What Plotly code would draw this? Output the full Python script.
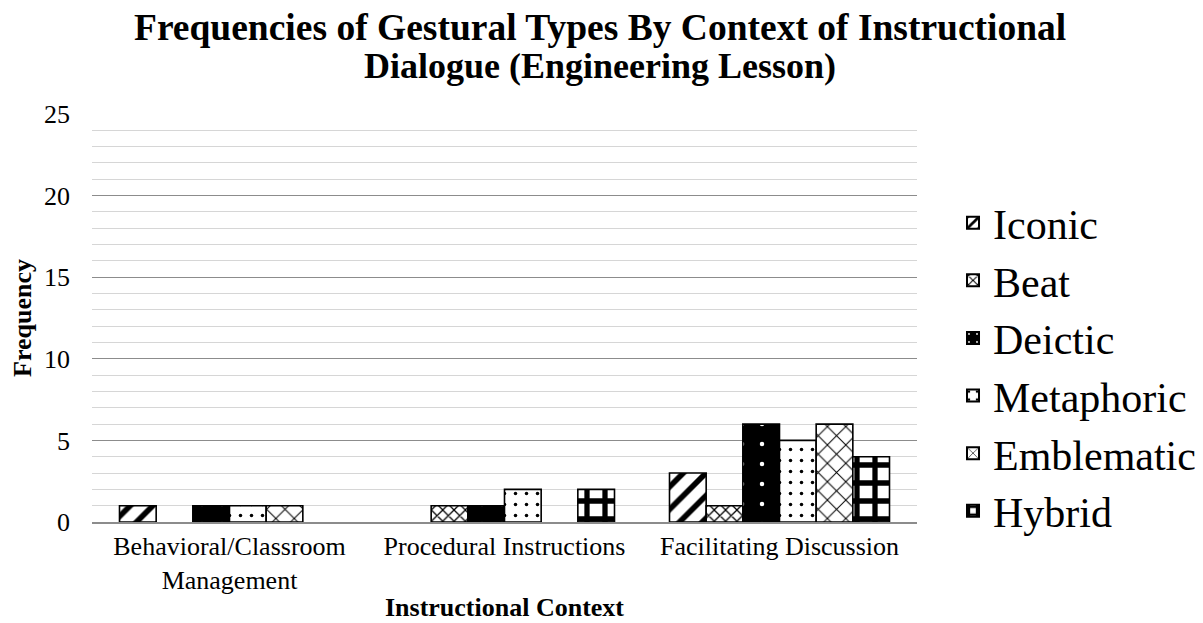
import plotly.graph_objects as go

categories = ["Behavioral/Classroom<br>Management", "Procedural Instructions", "Facilitating Discussion"]
series_names = ["Iconic", "Beat", "Deictic", "Metaphoric", "Emblematic", "Hybrid"]
iconic = [1, 0, 3]
beat = [0, 1, 1]
deictic = [1, 1, 6]
metaphoric = [1, 2, 5]
emblematic = [1, 0, 6]
hybrid = [0, 2, 4]
values = [iconic, beat, deictic, metaphoric, emblematic, hybrid]
title_lines = ["Frequencies of Gestural Types By Context of Instructional",
               "Dialogue (Engineering Lesson)"]

styles = [
    dict(bg="white", fg="black", shape="/", size=16, sol=0.35),
    dict(bg="white", fg="black", shape="x", size=8, sol=0.3),
    dict(bg="black", fg="white", shape=".", size=20, sol=0.04),
    dict(bg="white", fg="black", shape=".", size=11, sol=0.08),
    dict(bg="white", fg="black", shape="x", size=13, sol=0.15),
    dict(bg="white", fg="black", shape="+", size=18, sol=0.5),
]

FONT = "Liberation Serif, Times New Roman, serif"

fig = go.Figure()
for name, vals, st in zip(series_names, values, styles):
    fig.add_trace(go.Bar(
        name=name, x=categories, y=[v if v else None for v in vals],
        marker=dict(color=st["bg"], line=dict(color="black", width=1.6),
                    pattern=dict(shape=st["shape"], fgcolor=st["fg"], bgcolor=st["bg"],
                                 size=st["size"], solidity=st["sol"], fillmode="replace")),
    ))

for txt, yy, fs in zip(title_lines, [1.2108, 1.1176], [37.5, 36]):
    fig.add_annotation(text="<b>" + txt + "</b>", xref="paper", yref="paper",
                       x=0.616, y=yy, xanchor="center", yanchor="middle",
                       showarrow=False, font=dict(size=fs, family=FONT, color="black"))

fig.update_layout(
    width=1195, height=615,
    paper_bgcolor="white", plot_bgcolor="white",
    font=dict(family=FONT, color="black"),
    barmode="group", bargap=0.2, bargroupgap=0,
    margin=dict(l=84, r=286, t=106, b=101),
    legend=dict(xref="container", yref="paper", x=0.7908, xanchor="left",
                y=0.38, yanchor="middle",
                font=dict(size=42, family=FONT), itemsizing="constant",
                tracegroupgap=0, bgcolor="rgba(0,0,0,0)"),
    xaxis=dict(title=dict(text="<b>Instructional Context</b>", font=dict(size=26), standoff=4),
               tickfont=dict(size=26), showline=True, linecolor="#8c8c8c", linewidth=1.5,
               ticks="", showgrid=False, automargin=False),
    yaxis=dict(title=dict(text="<b>Frequency</b>", font=dict(size=26), standoff=10),
               range=[0, 25], dtick=5, tickfont=dict(size=26), ticklabelstandoff=21,
               showgrid=True, gridcolor="#8c8c8c", gridwidth=1,
               zeroline=False, automargin=False,
               minor=dict(dtick=1, showgrid=True, gridcolor="#d6d6d6", gridwidth=1)),
)

fig.write_html("out.html")
